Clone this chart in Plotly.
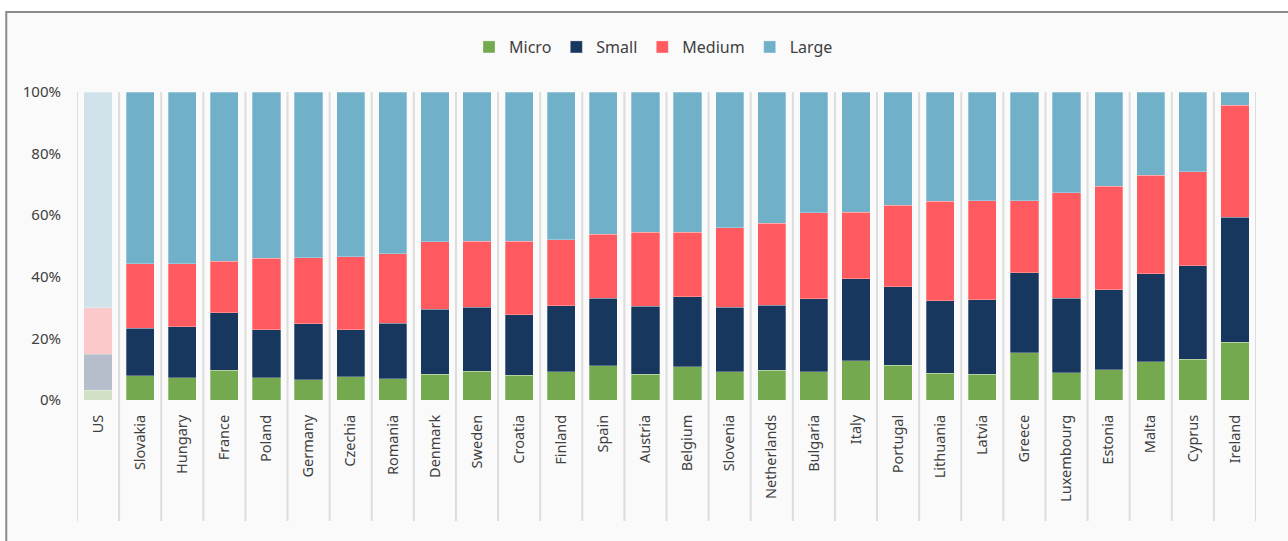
import plotly.graph_objects as go

# data (share of each size class, %)
countries = ["US", "Slovakia", "Hungary", "France", "Poland", "Germany", "Czechia", "Romania",
             "Denmark", "Sweden", "Croatia", "Finland", "Spain", "Austria", "Belgium", "Slovenia",
             "Netherlands", "Bulgaria", "Italy", "Portugal", "Lithuania", "Latvia", "Greece",
             "Luxembourg", "Estonia", "Malta", "Cyprus", "Ireland"]
micro = [3.2, 7.8, 7.2, 9.7, 7.2, 6.6, 7.5, 6.9, 8.4, 9.4, 8.0, 9.2, 11.1, 8.4, 10.8, 9.2,
         9.7, 9.2, 12.7, 11.3, 8.7, 8.4, 15.4, 8.8, 9.9, 12.4, 13.2, 18.7]
small = [11.7, 15.5, 16.6, 18.7, 15.6, 18.2, 15.3, 18.0, 21.0, 20.7, 19.7, 21.4, 21.9, 22.0, 22.7, 20.9,
         21.0, 23.7, 26.6, 25.5, 23.6, 24.2, 25.9, 24.2, 25.9, 28.6, 30.4, 40.6]
medium = [15.0, 21.0, 20.5, 16.7, 23.2, 21.4, 23.7, 22.6, 22.0, 21.4, 23.9, 21.5, 20.8, 24.0, 20.9, 25.8,
          26.7, 27.9, 21.6, 26.4, 32.2, 32.1, 23.4, 34.3, 33.6, 32.0, 30.5, 36.4]
large = [70.1, 55.7, 55.7, 54.9, 54.0, 53.8, 53.5, 52.5, 48.6, 48.5, 48.4, 47.9, 46.2, 45.6, 45.6, 44.1,
         42.6, 39.2, 39.1, 36.8, 35.5, 35.3, 35.3, 32.7, 30.6, 27.0, 25.9, 4.3]
y_ticks = [0, 20, 40, 60, 80, 100]
y_labels = ["0%", "20%", "40%", "60%", "80%", "100%"]

series = [("Micro", micro, "#74a94f"), ("Small", small, "#18375f"),
          ("Medium", medium, "#ff5a5f"), ("Large", large, "#71b0c9")]

# US is a faded benchmark bar
opac = [0.3 if c == "US" else 1.0 for c in countries]

fig = go.Figure()
for name, vals, col in series:
    fig.add_trace(go.Bar(
        name=name, x=countries, y=vals,
        marker=dict(color=col, opacity=opac, line=dict(width=0.8, color="rgba(255,255,255,0.35)")),
    ))

# frame + light background
fig.add_shape(type="rect", xref="paper", yref="paper", x0=-0.060, x1=1.2, y0=-1.0, y1=1.26,
              fillcolor="#fafafa", line=dict(color="#8a8a8a", width=2), layer="below")

# category separators running down through the label area
for i in range(len(countries) + 1):
    fig.add_shape(type="line", xref="x", yref="paper", x0=i - 0.5, x1=i - 0.5, y0=-0.393, y1=1,
                  line=dict(color="#dcdcdc", width=2), layer="below")

fig.update_layout(
    width=1288, height=541,
    margin=dict(l=77, r=32, t=92, b=141),
    barmode="stack", bargap=0.33,
    paper_bgcolor="white", plot_bgcolor="rgba(0,0,0,0)",
    font=dict(family="Noto Sans, Open Sans, sans-serif", size=14, color="#404040"),
    legend=dict(orientation="h", x=0.489, xanchor="center", y=1.146, yanchor="middle",
                font=dict(size=16, color="#404040"), itemwidth=30, traceorder="normal",
                bgcolor="rgba(0,0,0,0)"),
    showlegend=True,
)
fig.update_xaxes(type="category", tickangle=-90, showgrid=False, showline=False, zeroline=False,
                 ticks="outside", ticklen=8, tickcolor="rgba(0,0,0,0)",
                 tickfont=dict(size=14.5, color="#404040"), range=[-0.5, len(countries) - 0.5])
fig.update_yaxes(range=[0, 100], tickvals=y_ticks, ticktext=y_labels, showgrid=False, zeroline=False,
                 showline=False, ticks="outside", ticklen=12, tickcolor="rgba(0,0,0,0)",
                 tickfont=dict(size=15, color="#404040"))

fig.write_html("out.html", config={"displayModeBar": False},
               post_script="document.body.style.margin='0';")
